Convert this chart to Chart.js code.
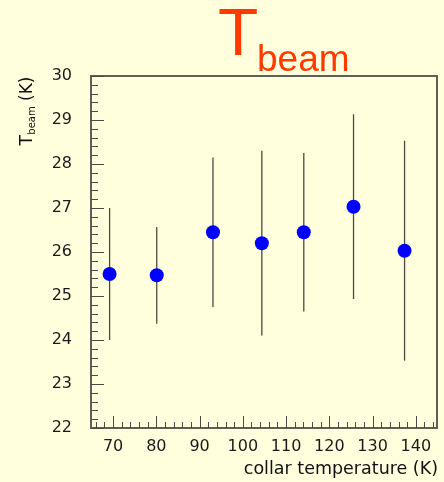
<!DOCTYPE html>
<html><head><meta charset="utf-8">
<script src="https://cdn.jsdelivr.net/npm/chart.js@4/dist/chart.umd.min.js"></script>
<style>html,body{margin:0;padding:0;background:#ffffde;overflow:hidden}</style>
</head><body>
<canvas id="c" width="444" height="482" style="display:block;width:444px;height:482px"></canvas>
<script>
// ---- data ----
const collarTemp = [69.2, 80.1, 93.1, 104.4, 114.1, 125.6, 137.4];
const tBeam      = [25.50, 25.47, 26.45, 26.20, 26.45, 27.03, 26.03];
const tBeamErr   = [1.50, 1.10, 1.70, 2.10, 1.80, 2.10, 2.50];
const xTickLabels = [70, 80, 90, 100, 110, 120, 130, 140];
const yTickLabels = [22, 23, 24, 25, 26, 27, 28, 29, 30];

const BG = '#ffffde';
const AXIS = '#5f5f55';
const TICKFONT = 'DejaVu Sans';

const rootPlugin = {
  id: 'rootStyle',
  beforeDraw(chart) {
    const ctx = chart.ctx;
    ctx.save();
    ctx.fillStyle = BG;
    ctx.fillRect(0, 0, chart.width, chart.height);
    ctx.restore();
  },
  beforeDatasetsDraw(chart) {
    const ctx = chart.ctx, xs = chart.scales.x, ys = chart.scales.y;
    ctx.save();
    ctx.strokeStyle = '#4a4a40';
    ctx.lineWidth = 1.3;
    collarTemp.forEach((xv, i) => {
      const px = xs.getPixelForValue(xv);
      const y1 = ys.getPixelForValue(tBeam[i] + tBeamErr[i]);
      const y2 = ys.getPixelForValue(tBeam[i] - tBeamErr[i]);
      ctx.beginPath(); ctx.moveTo(px, y1); ctx.lineTo(px, y2); ctx.stroke();
    });
    ctx.restore();
  },
  afterDraw(chart) {
    const ctx = chart.ctx, xs = chart.scales.x, ys = chart.scales.y;
    const a = chart.chartArea;
    ctx.save();
    // frame
    ctx.strokeStyle = AXIS;
    ctx.lineWidth = 2;
    ctx.strokeRect(a.left, a.top, a.right - a.left, a.bottom - a.top);
    // ticks
    ctx.lineWidth = 1;
    ctx.strokeStyle = '#4a4a42';
    for (let v = Math.ceil(ys.min * 5); v <= Math.floor(ys.max * 5); v++) {
      const major = v % 5 === 0;
      const py = Math.round(ys.getPixelForValue(v / 5)) + 0.5;
      ctx.beginPath(); ctx.moveTo(a.left, py); ctx.lineTo(a.left + (major ? 13 : 7), py); ctx.stroke();
    }
    for (let v = Math.ceil(xs.min / 2); v <= Math.floor(xs.max / 2); v++) {
      const val = v * 2;
      const major = val % 10 === 0;
      const px = Math.round(xs.getPixelForValue(val)) + 0.5;
      ctx.beginPath(); ctx.moveTo(px, a.bottom); ctx.lineTo(px, a.bottom - (major ? 12 : 6)); ctx.stroke();
    }
    // title
    ctx.fillStyle = '#ff3a00';
    ctx.textBaseline = 'alphabetic';
    ctx.textAlign = 'left';
    ctx.font = '66px "Liberation Sans"';
    ctx.fillText('T', 218, 55);
    ctx.font = '37px "Liberation Sans"';
    ctx.fillText('beam', 257, 71);
    // x axis title
    ctx.fillStyle = '#111';
    ctx.font = '17.5px "DejaVu Sans"';
    ctx.textAlign = 'right';
    ctx.fillText('collar temperature (K)', 438, 474);
    // y axis title (rotated, aligned to the top)
    ctx.translate(32, 77);
    ctx.rotate(-Math.PI / 2);
    ctx.textAlign = 'left';
    const big = '17px "DejaVu Sans"', small = '10px "DejaVu Sans"';
    ctx.font = big; const wT = ctx.measureText('T').width;
    ctx.font = small; const wB = ctx.measureText('beam').width;
    ctx.font = big; const wK = ctx.measureText(' (K)').width;
    const x0 = -(wT + wB + wK);
    ctx.font = big; ctx.fillText('T', x0, 0);
    ctx.font = small; ctx.fillText('beam', x0 + wT + 0.5, 3);
    ctx.font = big; ctx.fillText(' (K)', x0 + wT + wB + 0.5, 0);
    ctx.restore();
  }
};

new Chart(document.getElementById('c'), {
  type: 'scatter',
  data: {
    datasets: [{
      data: collarTemp.map((x, i) => ({ x: x, y: tBeam[i] })),
      backgroundColor: '#0000ff',
      borderWidth: 0,
      pointRadius: 7,
      pointHoverRadius: 7
    }]
  },
  options: {
    responsive: false,
    devicePixelRatio: 1,
    animation: false,
    events: [],
    layout: { padding: { left: 0, right: 1, top: 76, bottom: 0 } },
    plugins: { legend: { display: false }, tooltip: { enabled: false }, title: { display: false } },
    scales: {
      x: {
        type: 'linear', min: 64.9, max: 144.9,
        afterBuildTicks(s) { s.ticks = xTickLabels.map(v => ({ value: v })); },
        afterFit(s) { s.height = 54; },
        grid: { display: false, drawTicks: false },
        border: { display: false },
        ticks: { font: { family: TICKFONT, size: 16 }, color: '#1a1a1a', padding: 9, maxRotation: 0, autoSkip: false }
      },
      y: {
        type: 'linear', min: 22, max: 30,
        afterBuildTicks(s) { s.ticks = yTickLabels.map(v => ({ value: v })); },
        afterFit(s) { s.width = 91; },
        grid: { display: false, drawTicks: false },
        border: { display: false },
        ticks: { font: { family: TICKFONT, size: 16 }, color: '#1a1a1a', padding: 19, autoSkip: false }
      }
    }
  },
  plugins: [rootPlugin]
});
</script>
</body></html>
